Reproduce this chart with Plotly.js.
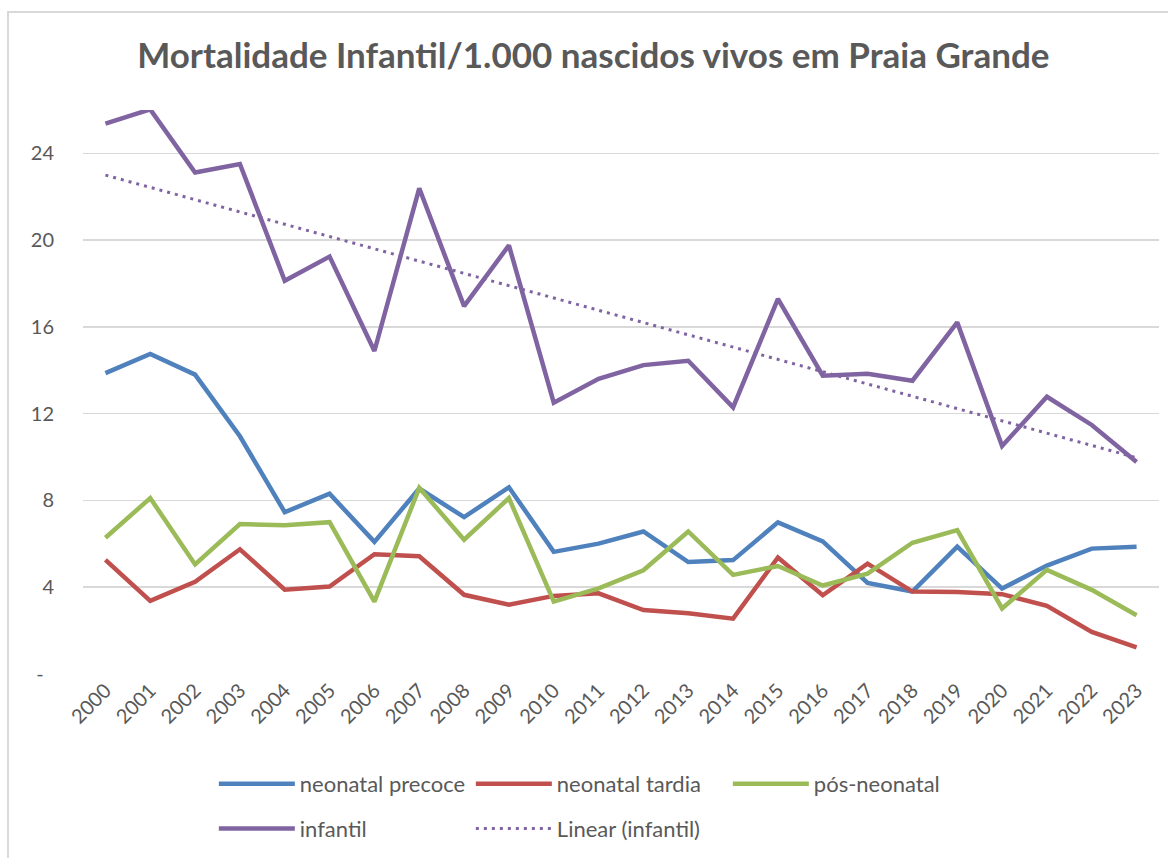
<!DOCTYPE html>
<html>
<head>
<meta charset="utf-8">
<script src="https://cdn.plot.ly/plotly-3.0.1.min.js"></script>
<style>
  html, body { margin: 0; padding: 0; background: #fff; }
  #wrap { position: relative; width: 1168px; height: 858px; overflow: hidden; }
  #chart { position: absolute; left: 0; top: 0; width: 1168px; height: 858px; }
  #frame { position: absolute; left: 7px; top: 11px; width: 1200px; height: 900px;
           border-left: 2px solid #d9d9d9; border-top: 2px solid #d9d9d9; pointer-events: none; }
</style>
</head>
<body>
<div id="wrap">
  <div id="chart"></div>
  <div id="frame"></div>
</div>
<script>
const years = ["2000","2001","2002","2003","2004","2005","2006","2007","2008","2009","2010","2011",
               "2012","2013","2014","2015","2016","2017","2018","2019","2020","2021","2022","2023"];
const neonatalPrecoce = [13.87,14.75,13.80,10.96,7.46,8.31,6.09,8.55,7.23,8.61,5.63,6.01,
                         6.57,5.16,5.25,6.99,6.11,4.20,3.80,5.87,3.94,5.00,5.78,5.87];
const neonatalTardia  = [5.26,3.37,4.25,5.75,3.89,4.03,5.52,5.43,3.65,3.19,3.60,3.72,
                         2.95,2.80,2.55,5.37,3.63,5.09,3.80,3.78,3.68,3.14,1.94,1.23];
const posNeonatal     = [6.28,8.11,5.05,6.91,6.86,7.00,3.34,8.58,6.19,8.11,3.34,3.95,
                         4.78,6.57,4.57,4.98,4.08,4.63,6.05,6.63,3.02,4.80,3.88,2.71];
const infantil        = [25.37,26.03,23.12,23.51,18.13,19.24,14.89,22.39,16.96,19.76,12.51,13.61,
                         14.24,14.44,12.29,17.29,13.75,13.84,13.52,16.21,10.51,12.78,11.48,9.77];
const yTickVals  = [0,4,8,12,16,20,24];
const yTickText  = ["-\u00a0\u00a0","4","8","12","16","20","24"];
const seriesNames = ["neonatal precoce","neonatal tardia","pós-neonatal","infantil","Linear (infantil)"];

// Linear trendline (least squares, as Excel computes it)
const n = infantil.length;
let sx=0, sy=0, sxx=0, sxy=0;
for (let i=0;i<n;i++){ sx+=i; sy+=infantil[i]; sxx+=i*i; sxy+=i*infantil[i]; }
const slope = (n*sxy - sx*sy)/(n*sxx - sx*sx);
const intercept = (sy - slope*sx)/n;
const trend = infantil.map((_,i)=> intercept + slope*i);

const FONT = "Lato, 'Open Sans', sans-serif";
const GREY = "#595959";
const lw = 4.5;

const traces = [
  {x: years, y: neonatalPrecoce, name: seriesNames[0], mode: "lines", line: {color: "#4F81BD", width: lw}, legend: "legend"},
  {x: years, y: neonatalTardia,  name: seriesNames[1], mode: "lines", line: {color: "#C0504D", width: lw}, legend: "legend"},
  {x: years, y: posNeonatal,     name: seriesNames[2], mode: "lines", line: {color: "#9BBB59", width: lw}, legend: "legend"},
  {x: years, y: infantil,        name: seriesNames[3], mode: "lines", line: {color: "#8064A2", width: lw}, legend: "legend2"},
  {x: years, y: trend,           name: seriesNames[4], mode: "lines", line: {color: "#8064A2", width: 3, dash: "3px,5px"}, legend: "legend2"}
];

const legendCommon = {orientation: "h", xanchor: "left", yanchor: "middle",
           entrywidth: 166, entrywidthmode: "pixels", itemwidth: 76,
           font: {size: 22, color: GREY}, bgcolor: "rgba(0,0,0,0)"};

const layout = {
  width: 1168, height: 858,
  margin: {l: 83, r: 9, t: 110, b: 183},
  paper_bgcolor: "#ffffff", plot_bgcolor: "#ffffff",
  font: {family: FONT, color: GREY, size: 19},
  title: {text: "<b>Mortalidade Infantil/1.000 nascidos vivos em Praia Grande</b>",
          font: {family: FONT, size: 35, color: GREY}, x: 0.508, xanchor: "center", y: 0.935, yanchor: "middle"},
  xaxis: {type: "category", range: [-0.5, 23.5], showgrid: false, zeroline: false, showline: false,
          tickangle: -45, ticks: "", tickfont: {size: 20, color: GREY}, automargin: false, fixedrange: true},
  yaxis: {range: [0, 26], tickvals: yTickVals, ticktext: yTickText, showgrid: true, gridcolor: "#d9d9d9",
          gridwidth: 1.5, zeroline: false, showline: false, ticks: "", ticklabelstandoff: 28,
          tickfont: {size: 20, color: GREY}, automargin: false, fixedrange: true},
  showlegend: true,
  legend: Object.assign({}, legendCommon, {x: 0.1216, y: -0.193}),
  legend2: Object.assign({}, legendCommon, {x: 0.1216, y: -0.272})
};

Plotly.newPlot("chart", traces, layout, {displayModeBar: false, staticPlot: true});
</script>
</body>
</html>
